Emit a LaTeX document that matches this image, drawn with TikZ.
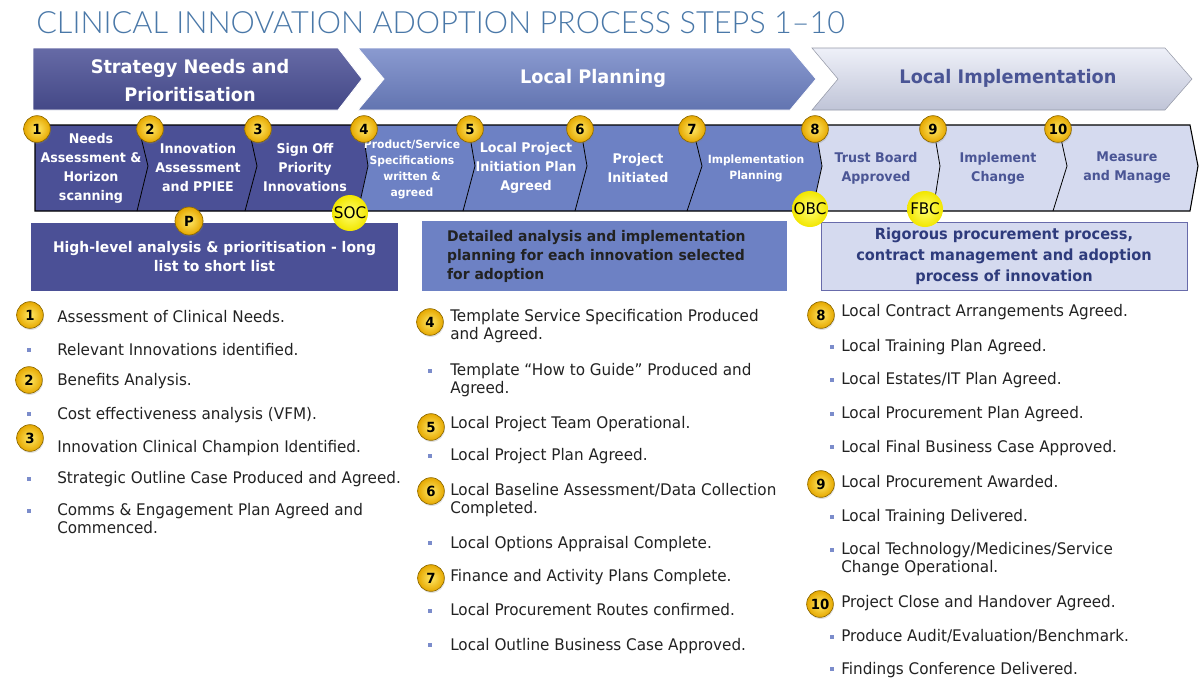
\documentclass[tikz,border=0pt]{standalone}
\usepackage{fontspec}
\setmainfont{DejaVu Sans}[FakeStretch=0.95]
\newfontfamily\headfont{Lato}[UprightFont={* Light}]
\usetikzlibrary{shadows}

\definecolor{titleblue}{HTML}{4A78A8}
\definecolor{stratblue}{HTML}{4B5096}
\definecolor{planblue}{HTML}{6D81C4}
\definecolor{impllav}{HTML}{D5DAEF}
\definecolor{impltext}{HTML}{4A5595}
\definecolor{boxtext}{HTML}{2E3B7C}
\definecolor{itemgray}{HTML}{222222}
\definecolor{bulletblue}{HTML}{7B8CCB}
\definecolor{badgegold}{HTML}{E6A800}
\definecolor{badgelight}{HTML}{FFE866}
\definecolor{badgeedge}{HTML}{8E6A00}
\definecolor{caseyellow}{HTML}{F2E600}
\definecolor{caselight}{HTML}{FFFF70}

\begin{document}
\begin{tikzpicture}[x=0.75pt,y=-0.75pt,
  badge/.style={circle,inner sep=0pt,minimum size=20pt,draw=badgeedge,line width=0.5pt,
    inner color=badgelight,outer color=badgegold,font=\bfseries\fontsize{10.5}{11}\selectfont,
    drop shadow={opacity=0.25,shadow xshift=0.5pt,shadow yshift=-1.2pt}},
  casebadge/.style={circle,inner sep=0pt,minimum size=27pt,
    inner color=caselight,outer color=caseyellow,font=\fontsize{12}{12}\selectfont},
  phasetext/.style={font=\bfseries\fontsize{14}{21}\selectfont,align=center},
  steptext/.style={font=\bfseries\fontsize{10}{14.25}\selectfont,align=center,text=white},
  smallstep/.style={steptext,font=\bfseries\fontsize{8.5}{12}\selectfont},
  listitem/.style={anchor=base west,align=left,inner sep=0pt,
    font=\fontsize{12}{13.5}\selectfont,text=itemgray},
  bulletsq/.style={rectangle,fill=bulletblue,minimum size=3pt,inner sep=0pt},
  boxtextstyle/.style={font=\bfseries\fontsize{11}{14.25}\selectfont},
]
\useasboundingbox (0,0) rectangle (1200,679);

\node[anchor=base west,inner sep=0pt,text=titleblue,
  font=\headfont\fontsize{23}{26}\selectfont] (title) at (36,33)
  {CLINICAL INNOVATION ADOPTION PROCESS STEPS 1–10};

% phase arrows, drawn back to front
\shade[top color=impllav!40!white,bottom color=impllav!90!black,draw=impllav!70!black,line width=0.4pt]
  (812,48) -- (1165,48) -- (1192,79) -- (1165,110) -- (812,110) -- (838,79) -- cycle;
\shade[top color=planblue!80!white,bottom color=planblue!90!black,draw=white,line width=0.6pt]
  (358,48) -- (790,48) -- (816,79) -- (790,110) -- (358,110) -- (384,79) -- cycle;
\shade[top color=stratblue!85!white,bottom color=stratblue!90!black,draw=white,line width=0.6pt]
  (33,48) -- (338,48) -- (362,79) -- (338,110) -- (33,110) -- cycle;
\node[phasetext,text=white] (strategy) at (190,81) {Strategy Needs and\\Prioritisation};
\node[phasetext,text=white] (planning) at (593,78) {Local Planning};
\node[phasetext,text=impltext] (implementation) at (1008,78) {Local Implementation};

% step band
\fill[stratblue] (35,125) -- (362,125) -- (368,166) -- (358,211) -- (35,211) -- cycle;
\fill[planblue] (362,125) -- (815,125) -- (822,166) -- (812,211) -- (358,211) -- (368,166) -- cycle;
\fill[impllav] (815,125) -- (1190,125) -- (1198,166) -- (1190,211) -- (812,211) -- (822,166) -- cycle;
\draw[line width=0.8pt] (35,125) -- (1190,125) -- (1198,166) -- (1190,211) -- (35,211) -- cycle;
\foreach \t/\p/\b in {138/148/137,248/257/245,362/368/358,468/475/463,580/587/575,
                      692/702/687,815/822/812,933/940/933,1058/1067/1053}
  \draw[line width=0.6pt] (\t,125) -- (\p,166) -- (\b,211);

\node[steptext] (needs) at (91,168) {Needs\\Assessment \&\\Horizon\\scanning};
\node[steptext] (assess) at (198,168) {Innovation\\Assessment\\and PPIEE};
\node[steptext] (signoff) at (305,168) {Sign Off\\Priority\\Innovations};
\node[smallstep] (spec) at (412,169) {Product/Service\\Specifications\\written \&\\agreed};
\node[steptext] (initplan) at (526,168) {Local Project\\Initiation Plan\\Agreed};
\node[steptext] (initiated) at (638,168) {Project\\Initiated};
\node[smallstep] (implplan) at (756,168) {Implementation\\Planning};
\node[steptext,text=impltext] (trust) at (876,168) {Trust Board\\Approved};
\node[steptext,text=impltext] (change) at (998,168) {Implement\\Change};
\node[steptext,text=impltext] (measure) at (1127,168) {Measure\\and Manage};

\foreach \n/\x in {1/37,2/150,3/258,4/364,5/470,6/580,7/692,8/815,9/933,10/1058}
  \node[badge] (step\n) at (\x,129) {\n};

% summary boxes under the band
\node[fill=stratblue,minimum width=275.25pt,minimum height=51pt,text=white,
  boxtextstyle,align=center] (stratbox) at (214.5,257) {High-level analysis \& prioritisation - long\\list to short list};
\node[fill=planblue,minimum width=273.75pt,minimum height=52.5pt,text=itemgray,
  boxtextstyle,text width=236pt,align=left] (planbox) at (604.5,256) {Detailed analysis and implementation\\planning for each innovation selected\\for adoption};
\node[fill=impllav,draw=impllav!70!blue!70!black,line width=0.6pt,minimum width=274.5pt,minimum height=51pt,
  text=boxtext,boxtextstyle,font=\bfseries\fontsize{11.5}{15.75}\selectfont,align=center] (implbox) at (1004,256.5)
  {Rigorous procurement process,\\contract management and adoption\\process of innovation};

\node[badge,minimum size=21pt] (p) at (189,221) {P};
\node[casebadge] (soc) at (350,213) {SOC};
\node[casebadge] (obc) at (810,209) {OBC};
\node[casebadge] (fbc) at (925,209) {FBC};

% first column
\node[badge] (a1) at (30,315) {1};
\node[listitem] (a1t) at (57,322) {Assessment of Clinical Needs.};
\node[bulletsq] (a2) at (29,350) {};
\node[listitem] (a2t) at (57,355) {Relevant Innovations identified.};
\node[badge] (a3) at (29,380) {2};
\node[listitem] (a3t) at (57,385) {Benefits Analysis.};
\node[bulletsq] (a4) at (29,414) {};
\node[listitem] (a4t) at (57,419) {Cost effectiveness analysis (VFM).};
\node[badge] (a5) at (30,438) {3};
\node[listitem] (a5t) at (57,452) {Innovation Clinical Champion Identified.};
\node[bulletsq] (a6) at (29,479) {};
\node[listitem] (a6t) at (57,483) {Strategic Outline Case Produced and Agreed.};
\node[bulletsq] (a7) at (29,511) {};
\node[listitem] (a7t) at (57,533) {Comms \& Engagement Plan Agreed and\\Commenced.};

% second column
\node[badge] (b1) at (430,322) {4};
\node[listitem] (b1t) at (450,339) {Template Service Specification Produced\\and Agreed.};
\node[bulletsq] (b2) at (430,371) {};
\node[listitem] (b2t) at (450,393) {Template “How to Guide” Produced and\\Agreed.};
\node[badge] (b3) at (431,427) {5};
\node[listitem] (b3t) at (450,428) {Local Project Team Operational.};
\node[bulletsq] (b4) at (430,456) {};
\node[listitem] (b4t) at (450,460) {Local Project Plan Agreed.};
\node[badge] (b5) at (431,491) {6};
\node[listitem] (b5t) at (450,513) {Local Baseline Assessment/Data Collection\\Completed.};
\node[bulletsq] (b6) at (430,543) {};
\node[listitem] (b6t) at (450,548) {Local Options Appraisal Complete.};
\node[badge] (b7) at (431,578) {7};
\node[listitem] (b7t) at (450,581) {Finance and Activity Plans Complete.};
\node[bulletsq] (b8) at (430,611) {};
\node[listitem] (b8t) at (450,615) {Local Procurement Routes confirmed.};
\node[bulletsq] (b9) at (430,645) {};
\node[listitem] (b9t) at (450,650) {Local Outline Business Case Approved.};

% third column
\node[badge] (c1) at (821,315) {8};
\node[listitem] (c1t) at (841,316) {Local Contract Arrangements Agreed.};
\node[bulletsq] (c2) at (832,347) {};
\node[listitem] (c2t) at (841,351) {Local Training Plan Agreed.};
\node[bulletsq] (c3) at (832,380) {};
\node[listitem] (c3t) at (841,384) {Local Estates/IT Plan Agreed.};
\node[bulletsq] (c4) at (832,414) {};
\node[listitem] (c4t) at (841,418) {Local Procurement Plan Agreed.};
\node[bulletsq] (c5) at (832,447) {};
\node[listitem] (c5t) at (841,452) {Local Final Business Case Approved.};
\node[badge] (c6) at (821,484) {9};
\node[listitem] (c6t) at (841,487) {Local Procurement Awarded.};
\node[bulletsq] (c7) at (832,517) {};
\node[listitem] (c7t) at (841,521) {Local Training Delivered.};
\node[bulletsq] (c8) at (832,550) {};
\node[listitem] (c8t) at (841,572) {Local Technology/Medicines/Service\\Change Operational.};
\node[badge] (c9) at (820,604) {10};
\node[listitem] (c9t) at (841,607) {Project Close and Handover Agreed.};
\node[bulletsq] (c10) at (832,637) {};
\node[listitem] (c10t) at (841,641) {Produce Audit/Evaluation/Benchmark.};
\node[bulletsq] (c11) at (832,669) {};
\node[listitem] (c11t) at (841,674) {Findings Conference Delivered.};
\end{tikzpicture}
\end{document}
